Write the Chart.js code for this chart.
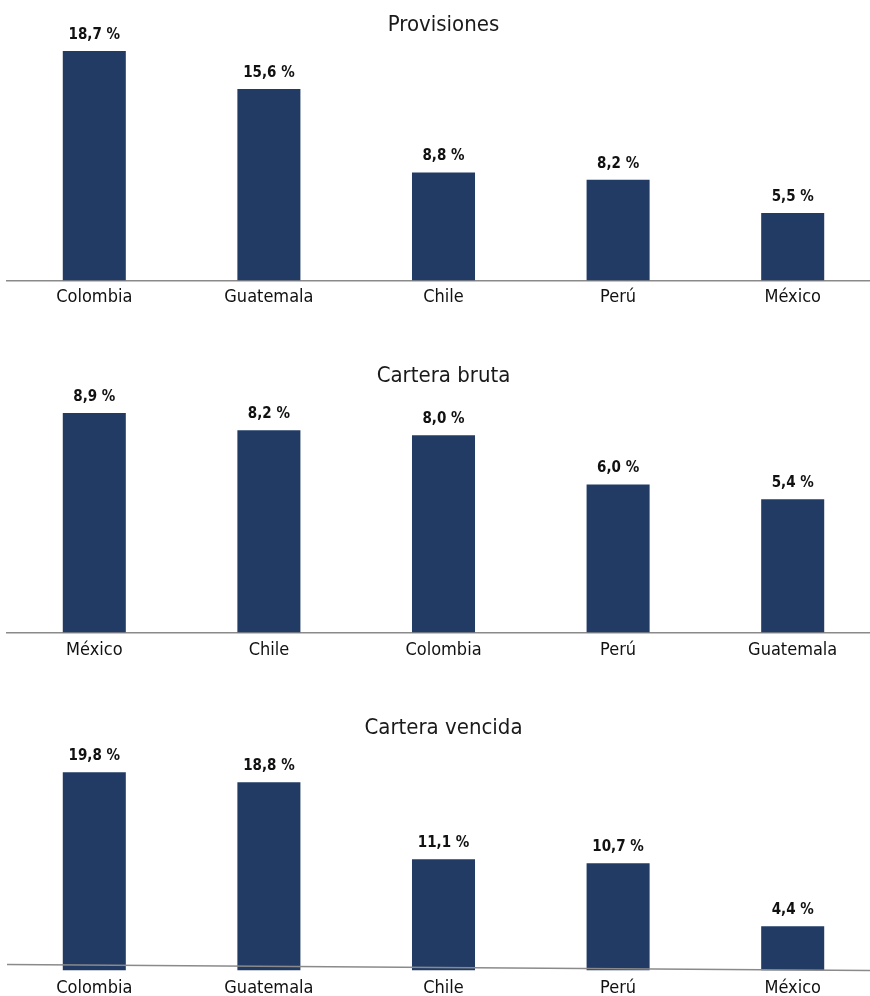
<!DOCTYPE html>
<html lang="es">
<head>
<meta charset="utf-8">
<script src="https://cdn.jsdelivr.net/npm/chart.js@4/dist/chart.umd.min.js"></script>
<style>
  html, body { margin: 0; padding: 0; background: #fff; overflow: hidden; width: 870px; height: 996px; }
  canvas { display: block; }
</style>
</head>
<body>
<canvas id="c1" width="880" height="320"></canvas>
<canvas id="c2" width="880" height="352"></canvas>
<canvas id="c3" width="880" height="335"></canvas>
<script>
// datos
const provLabels = ["Colombia", "Guatemala", "Chile", "Perú", "México"];
const provValues = [18.7, 15.6, 8.8, 8.2, 5.5];

const brutaLabels = ["México", "Chile", "Colombia", "Perú", "Guatemala"];
const brutaValues = [8.9, 8.2, 8.0, 6.0, 5.4];

const vencidaLabels = ["Colombia", "Guatemala", "Chile", "Perú", "México"];
const vencidaValues = [19.8, 18.8, 11.1, 10.7, 4.4];

const FONT = "'Liberation Sans Narrow', 'Arial Narrow', 'DejaVu Sans Condensed', sans-serif";
const BAR = "#213b64";

// etiquetas de valor encima de cada barra
const valueLabels = {
  id: "valueLabels",
  afterDatasetsDraw(chart) {
    const ctx = chart.ctx;
    const meta = chart.getDatasetMeta(0);
    ctx.save();
    ctx.font = "bold 15px " + FONT;
    ctx.fillStyle = "#111";
    ctx.textAlign = "center";
    ctx.textBaseline = "middle";
    meta.data.forEach((bar, i) => {
      const v = chart.data.datasets[0].data[i];
      ctx.fillText(v.toFixed(1).replace(".", ",") + " %", bar.x, bar.y - 16);
    });
    ctx.restore();
  }
};

// línea base inclinada del tercer gráfico
const slantedBase = {
  id: "slantedBase",
  afterDatasetsDraw(chart) {
    if (!chart.options.plugins.slantedBase) return;
    const a = chart.chartArea;
    const ctx = chart.ctx;
    ctx.save();
    ctx.strokeStyle = "#8a8a8a";
    ctx.lineWidth = 1.5;
    ctx.beginPath();
    ctx.moveTo(a.left, a.bottom - 6);
    ctx.lineTo(870, a.bottom);
    ctx.stroke();
    ctx.restore();
  }
};

function makeChart(id, title, labels, values, opts) {
  return new Chart(document.getElementById(id), {
    type: "bar",
    data: {
      labels: labels,
      datasets: [{
        data: values,
        backgroundColor: BAR,
        barPercentage: 0.361,
        categoryPercentage: 1
      }]
    },
    options: {
      responsive: false,
      animation: false,
      layout: { padding: { left: 7, right: 0, top: 0, bottom: opts.bottom } },
      plugins: {
        legend: { display: false },
        tooltip: { enabled: false },
        slantedBase: opts.slanted || false,
        title: {
          display: true,
          text: title,
          color: "#1a1a1a",
          font: { family: FONT, size: 22, weight: "normal", lineHeight: 1.2 },
          padding: { top: opts.titleTop, bottom: 12 }
        }
      },
      scales: {
        x: {
          grid: { display: false, drawTicks: false },
          border: { display: !opts.slanted, color: "#8a8a8a", width: 1.5 },
          ticks: {
            color: "#111",
            padding: opts.tickPad,
            maxRotation: 0,
            autoSkip: false,
            font: { family: FONT, size: 18, lineHeight: 1.2 }
          }
        },
        y: {
          display: false,
          min: 0,
          max: opts.max
        }
      }
    },
    plugins: [valueLabels, slantedBase]
  });
}

makeChart("c1", "Provisiones", provLabels, provValues, { max: 18.74, titleTop: 12, tickPad: 6, bottom: 6 });
makeChart("c2", "Cartera bruta", brutaLabels, brutaValues, { max: 9.37, titleTop: 43, tickPad: 7, bottom: 4 });
makeChart("c3", "Cartera vencida", vencidaLabels, vencidaValues, { max: 21.67, titleTop: 43, tickPad: 7, bottom: 1, slanted: true });
</script>
</body>
</html>
